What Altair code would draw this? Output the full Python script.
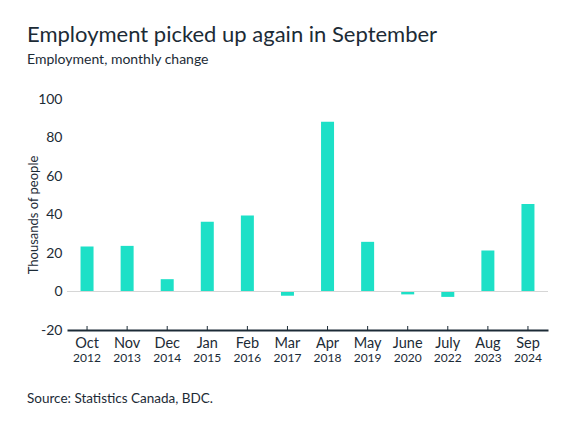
import pandas as pd
import altair as alt

# Monthly employment change (thousands of people)
months = ['Oct', 'Nov', 'Dec', 'Jan', 'Feb', 'Mar', 'Apr', 'May', 'June', 'July', 'Aug', 'Sep']
years = ['2012', '2013', '2014', '2015', '2016', '2017', '2018', '2019', '2020', '2022', '2023', '2024']
change = [23.4, 23.7, 6.4, 36.2, 39.5, -2.2, 88.2, 25.8, -1.5, -2.8, 21.3, 45.4]
y_ticks = [-20, 0, 20, 40, 60, 80, 100]

title_text = 'Employment picked up again in September'
subtitle_text = 'Employment, monthly change'
source_text = 'Source: Statistics Canada, BDC.'

FONT = 'Lato'
INK = '#1c2b36'
BAR = '#1de0c7'
W, H = 481, 231

df = pd.DataFrame({'key': [f'{m} {y}' for m, y in zip(months, years)],
                   'month': months, 'year': years, 'change': change})
order = list(df['key'])

x_scale = alt.Scale(paddingInner=0.675, paddingOuter=0.3375)
x_axis = alt.Axis(labelExpr="split(datum.label, ' ')[0]", labelAngle=0,
                  labelFontSize=14.5, labelColor=INK, labelFont=FONT,
                  labelPadding=6, tickSize=0, domainColor=INK,
                  domainWidth=2, grid=False, title=None)
y_scale = alt.Scale(domain=[-20, 100], nice=False)
y_axis = alt.Axis(values=y_ticks, grid=False, domain=False, ticks=False,
                  labelExpr='toString(datum.value)', labelOverlap=False,
                  labelFontSize=14, labelColor=INK, labelFont=FONT,
                  labelPadding=5, title='Thousands of people',
                  titleFontSize=13, titleColor=INK, titleFont=FONT,
                  titleFontWeight='normal', titleX=-27, titleY=H / 2)

base = alt.Chart(df)

bars = base.mark_bar(color=BAR, size=13).encode(
    x=alt.X('key:N', sort=order, scale=x_scale, axis=x_axis),
    y=alt.Y('change:Q', scale=y_scale, axis=y_axis),
    tooltip=['month', 'year', 'change']
)

zero = alt.Chart(pd.DataFrame({'z': [0]})).mark_rule(color='#d6d6d6', strokeWidth=1).encode(
    y=alt.Y('z:Q', scale=y_scale, axis=y_axis), x=alt.value(0), x2=alt.value(W)
)

ticks = base.mark_rule(color=INK, strokeWidth=1).encode(
    x=alt.X('key:N', sort=order, scale=x_scale, axis=x_axis),
    y=alt.value(H), y2=alt.value(H - 4)
)

year_labels = base.mark_text(fontSize=12, color=INK, font=FONT, baseline='alphabetic').encode(
    x=alt.X('key:N', sort=order, scale=x_scale, axis=x_axis),
    y=alt.value(H + 32), text='year:N'
)

source = alt.Chart(pd.DataFrame({'t': [source_text]})).mark_text(
    fontSize=13.5, color=INK, font=FONT, align='left', baseline='alphabetic'
).encode(x=alt.value(-40), y=alt.value(304), text='t:N')

chart = alt.layer(bars, zero, ticks, year_labels, source).properties(
    width=W, height=H,
    autosize=alt.AutoSizeParams(type='none'),
    padding={'left': 59, 'top': 91, 'right': 19, 'bottom': 93},
    title=alt.TitleParams(title_text, subtitle=subtitle_text, anchor='start', frame='group',
                          dx=-40, font=FONT, fontSize=22, fontWeight='normal', color=INK,
                          subtitleFont=FONT, subtitleFontSize=14, subtitleColor=INK,
                          subtitlePadding=6, offset=24)
).configure_view(stroke=None)

chart.save('out.html', embed_options={'renderer': 'svg', 'actions': False})
